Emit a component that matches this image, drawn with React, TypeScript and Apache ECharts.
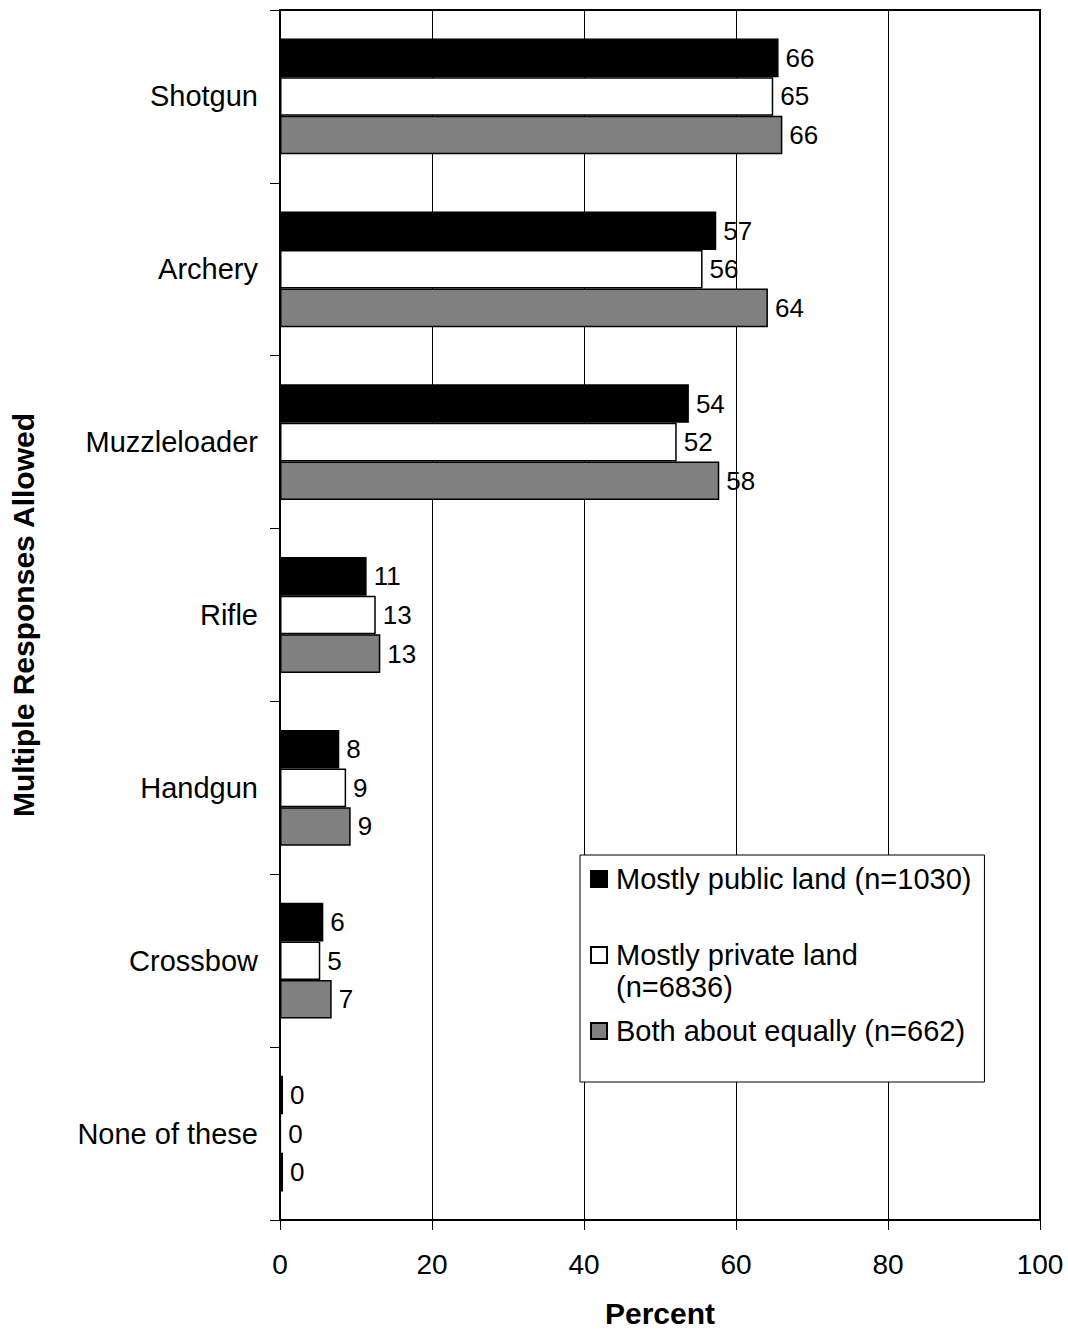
import React, { useEffect, useRef } from "react";
import * as echarts from "echarts";

const categories = ["Shotgun", "Archery", "Muzzleloader", "Rifle", "Handgun", "Crossbow", "None of these"];
const seriesNames = [
  "Mostly public land (n=1030)",
  "Mostly private land (n=6836)",
  "Both about equally (n=662)",
];
const publicLand = [65.6, 57.4, 53.8, 11.4, 7.8, 5.7, 0.4];
const privateLand = [64.9, 55.6, 52.2, 12.6, 8.7, 5.3, 0.1];
const bothEqually = [66.1, 64.2, 57.8, 13.2, 9.3, 6.8, 0.4];
const seriesColors = ["#000000", "#ffffff", "#808080"];
const xTicks = { min: 0, max: 100, interval: 20 };

const FONT = "'Liberation Sans', Arial, sans-serif";

export default function App() {
  const ref = useRef<HTMLDivElement>(null);

  useEffect(() => {
    document.body.style.margin = "0";
    if (!ref.current) return;
    const chart = echarts.init(ref.current, null, { renderer: "svg" });
    const values = [publicLand, privateLand, bothEqually];
    const option: any = {
      animation: false,
      backgroundColor: "#ffffff",
      textStyle: { fontFamily: FONT },
      grid: {
        left: 280,
        right: 28,
        top: 10,
        bottom: 110,
        show: true,
        borderColor: "#000",
        borderWidth: 2,
        containLabel: false,
        outerBoundsMode: "none",
      },
      xAxis: {
        type: "value",
        min: xTicks.min,
        max: xTicks.max,
        interval: xTicks.interval,
        name: "Percent",
        nameLocation: "middle",
        nameGap: 78,
        nameTextStyle: { fontFamily: FONT, fontSize: 30, fontWeight: "bold", color: "#000" },
        axisLine: { show: true, lineStyle: { color: "#000", width: 2 } },
        axisTick: { show: true, inside: false, length: 10, lineStyle: { color: "#000", width: 1 } },
        axisLabel: { fontFamily: FONT, fontSize: 28, color: "#000", margin: 30 },
        splitLine: { show: true, lineStyle: { color: "#000", width: 1 } },
      },
      yAxis: {
        type: "category",
        data: categories,
        inverse: true,
        name: "Multiple Responses Allowed",
        nameLocation: "middle",
        nameGap: 242,
        nameRotate: 90,
        nameTextStyle: { fontFamily: FONT, fontSize: 30, fontWeight: "bold", color: "#000" },
        axisLine: { show: true, lineStyle: { color: "#000", width: 2 } },
        axisTick: { show: true, inside: false, length: 10, lineStyle: { color: "#000", width: 1 } },
        axisLabel: { fontFamily: FONT, fontSize: 29, color: "#000", margin: 22 },
        splitLine: { show: false },
      },
      legend: {
        orient: "vertical",
        left: 580,
        top: 855,
        padding: [8, 13, 35, 10],
        itemGap: 12,
        itemWidth: 16,
        itemHeight: 16,
        icon: "rect",
        backgroundColor: "#fff",
        borderColor: "#000",
        borderWidth: 1,
        z: 10,
        textStyle: { fontFamily: FONT, fontSize: 29, color: "#000", lineHeight: 32, padding: [0, 0, 0, 4] },
        formatter: (name: string) =>
          name === seriesNames[1] ? "\nMostly private land\n(n=6836)" : name,
        data: [{ name: seriesNames[0] }, { name: seriesNames[1] }, { name: seriesNames[2] }],
      },
      series: seriesNames.map((name, i) => ({
        name,
        type: "bar",
        data: values[i],
        barGap: "0%",
        barCategoryGap: "33%",
        itemStyle: { color: seriesColors[i], borderColor: "#000", borderWidth: 1.5 },
        label: {
          show: true,
          position: "right",
          distance: 7,
          fontFamily: FONT,
          fontSize: 26,
          color: "#000",
          formatter: (p: any) => String(Math.round(p.value)),
        },
      })),
    };
    chart.setOption(option);
    return () => chart.dispose();
  }, []);

  return <div ref={ref} style={{ width: 1068, height: 1330 }} />;
}
